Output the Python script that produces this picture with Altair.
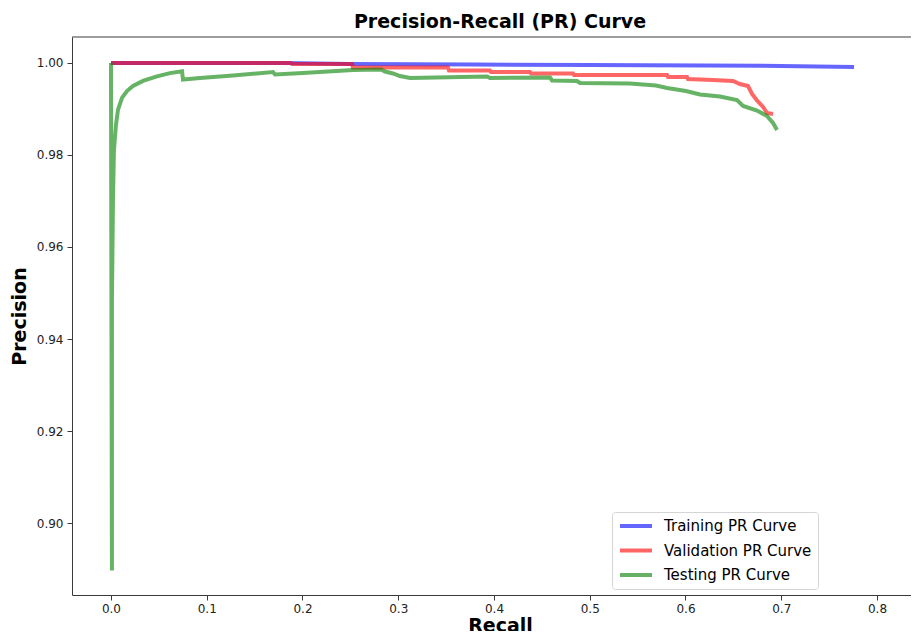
import altair as alt
import pandas as pd

names = ["Training PR Curve", "Validation PR Curve", "Testing PR Curve"]
colors = ["#0000ff", "#ff0000", "#008000"]

train_recall = [0.0, 0.18, 0.25, 0.38, 0.50, 0.62, 0.70, 0.776]
train_precision = [1.0, 1.0, 0.99978, 0.99965, 0.99957, 0.99948, 0.99935, 0.99913]

val_recall = [0.0, 0.1880, 0.1890, 0.2517, 0.2527, 0.3518, 0.3530, 0.3958, 0.3969,
              0.4376, 0.4386, 0.4825, 0.4836, 0.5807, 0.5818, 0.6016, 0.6026, 0.6287,
              0.6496, 0.6569, 0.6653, 0.6695, 0.6747, 0.6810, 0.6851, 0.6914]
val_precision = [1.0, 1.0, 0.99978, 0.99978, 0.99902, 0.99902, 0.99837, 0.99837, 0.99804,
                 0.99804, 0.99772, 0.99772, 0.99739, 0.99739, 0.99696, 0.99696, 0.99652,
                 0.99630, 0.99609, 0.99543, 0.99500, 0.99326, 0.99185, 0.99043, 0.98913,
                 0.98891]

test_recall = [0.0, 0.0010, 0.0010, 0.0021, 0.0031, 0.0052, 0.0073, 0.0115, 0.0167, 0.0230,
               0.0334, 0.0480, 0.0616, 0.0742, 0.0752, 0.0930, 0.1274, 0.1692, 0.1713,
               0.2005, 0.2527, 0.2820, 0.2862, 0.2945, 0.3018, 0.3123, 0.3927, 0.3958,
               0.4585, 0.4606, 0.4867, 0.4898, 0.5420, 0.5692, 0.5807, 0.6005, 0.6151,
               0.6360, 0.6538, 0.6601, 0.6747, 0.6851, 0.6914, 0.6956]
test_precision = [1.0, 0.8897, 0.9485, 0.9702, 0.9811, 0.9865, 0.9898, 0.9924, 0.9939,
                  0.9950, 0.9961, 0.9971, 0.9978, 0.9982, 0.9964, 0.99674, 0.99728,
                  0.99804, 0.9975, 0.99783, 0.99848, 0.99859, 0.99815, 0.99772, 0.99717,
                  0.99674, 0.99707, 0.99674, 0.99685, 0.99620, 0.99609, 0.99565, 0.99554,
                  0.99511, 0.99457, 0.99391, 0.99315, 0.99272, 0.99196, 0.99065, 0.98967,
                  0.98848, 0.98696, 0.98543]

x_ticks = [0.0, 0.1, 0.2, 0.3, 0.4, 0.5, 0.6, 0.7, 0.8]
y_ticks = [0.90, 0.92, 0.94, 0.96, 0.98, 1.00]

rows = []
for name, rs, ps in zip(names, [train_recall, val_recall, test_recall],
                        [train_precision, val_precision, test_precision]):
    for i, (r, p) in enumerate(zip(rs, ps)):
        rows.append({"curve": name, "recall": r, "precision": p, "idx": i})
df = pd.DataFrame(rows)

W, H = 839, 558
FONT = "DejaVu Sans"
SPINE = "#3a3a3a"

x_enc = alt.X(
    "recall:Q",
    scale=alt.Scale(domain=[-0.0407, 0.8355], nice=False, zero=False),
    axis=alt.Axis(values=x_ticks, format=".1f", title="Recall", grid=False,
                  labelFont=FONT, labelFontSize=12, labelColor="#222222",
                  tickSize=5, tickColor=SPINE, domainColor=SPINE, labelPadding=3,
                  titleFont=FONT, titleFontSize=19, titleFontWeight="bold",
                  titleColor="black", titleX=428, titlePadding=2, labelFlush=False),
)
y_enc = alt.Y(
    "precision:Q",
    scale=alt.Scale(domain=[0.88435, 1.00565], nice=False, zero=False),
    axis=alt.Axis(values=y_ticks, format=".2f", title="Precision", grid=False,
                  labelFont=FONT, labelFontSize=12, labelColor="#222222",
                  tickSize=5, tickColor=SPINE, domainColor=SPINE, labelPadding=4,
                  titleFont=FONT, titleFontSize=19, titleFontWeight="bold",
                  titleColor="black", titlePadding=7),
)
color_enc = alt.Color(
    "curve:N",
    scale=alt.Scale(domain=names, range=colors),
    legend=alt.Legend(title=None, orient="none", legendX=540, legendY=475,
                      symbolType="stroke", symbolSize=1024, symbolStrokeWidth=4,
                      labelFont=FONT, labelFontSize=15, labelColor="black",
                      clipHeight=16, rowPadding=8.5, padding=6, labelOffset=10,
                      strokeColor="#d5d5d5", fillColor="white", cornerRadius=3),
)


def curve_layer(name):
    return (
        alt.Chart(df)
        .transform_filter(alt.datum.curve == name)
        .mark_line(strokeWidth=4, opacity=0.6, clip=True)
        .encode(x=x_enc, y=y_enc, color=color_enc, order="idx:Q")
    )


top_spine = alt.Chart(pd.DataFrame({"a": [0]})).mark_rule(
    color=SPINE, strokeWidth=1
).encode(x=alt.value(0), x2=alt.value(W), y=alt.value(0))

chart = (
    alt.layer(curve_layer(names[0]), curve_layer(names[1]), curve_layer(names[2]), top_spine)
    .properties(
        width=W, height=H,
        title=alt.TitleParams("Precision-Recall (PR) Curve", fontSize=19, fontWeight="bold",
                              font=FONT, anchor="middle", dx=8.5, offset=5, color="black"),
        padding={"left": 64, "top": 29, "right": 0, "bottom": 36},
        autosize=alt.AutoSizeParams(type="none"),
        background="white",
    )
    .configure_view(stroke=None)
)

chart.save("out.html", embed_options={"renderer": "svg", "actions": False})
